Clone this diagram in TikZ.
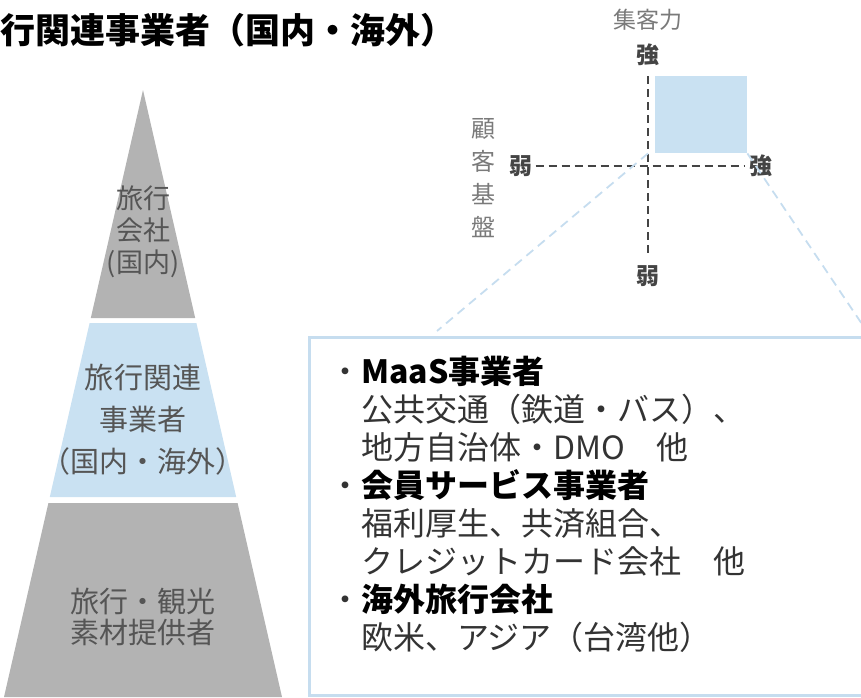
\documentclass[tikz,border=0pt]{standalone}
\usepackage{fontspec}
\setmainfont{Noto Sans CJK JP}
\usepackage{xcolor}
\usepackage{tikz}
\usetikzlibrary{shapes,calc,positioning}

\definecolor{pyrgray}{HTML}{B3B3B3}
\definecolor{pyrblue}{HTML}{C9E1F2}
\definecolor{boxblue}{HTML}{C6DDEF}
\definecolor{axgray}{HTML}{444444}
\definecolor{lblgray}{HTML}{7A7A7A}
\definecolor{txtgray}{HTML}{555555}
\definecolor{boxtext}{HTML}{333333}

\begin{document}
\begin{tikzpicture}[x=1pt,y=-1pt,
  pyrtext/.style={text=txtgray, align=center, inner sep=0pt},
  axislbl/.style={font=\fontsize{23}{26}\selectfont\bfseries, text=axgray, inner sep=1pt},
  axisline/.style={axgray, line width=2.2pt, dash pattern=on 8pt off 5pt},
  zoomline/.style={boxblue, line width=1.8pt, dash pattern=on 9pt off 6pt}]

\useasboundingbox (0,0) rectangle (861,697);
\clip (0,0) rectangle (861,697);

% title
\node[anchor=west, inner sep=0pt, font=\fontsize{35}{40}\selectfont\bfseries] (title) at (0,30) {行関連事業者（国内・海外）};

% pyramid
\fill[pyrgray] (143,90) -- (195.2,318) -- (90.8,318) -- cycle;
\fill[pyrblue] (89.6,323) -- (196.4,323) -- (236.2,497) -- (49.8,497) -- cycle;
\fill[pyrgray] (48.4,503) -- (237.6,503) -- (282,697) -- (4,697) -- cycle;

\node[pyrtext, font=\fontsize{27}{32}\selectfont] (ptop) at (143,232) {旅行\\会社\\(国内)};
\node[pyrtext, font=\fontsize{29}{42}\selectfont] (pmid) at (143,420) {旅行関連\\事業者\\（国内・海外）};
\node[pyrtext, font=\fontsize{29}{31}\selectfont] (pbot) at (143,617) {旅行・観光\\素材提供者};

% chart
\node[fill=pyrblue, minimum width=92pt, minimum height=77pt, inner sep=0pt, anchor=north west] (sq) at (655,76) {};

\node[axislbl] (stop) at (648,55) {強};
\node[axislbl] (sbot) at (648,276) {弱};
\node[axislbl] (sleft) at (521,166) {弱};
\node[axislbl] (sright) at (761,166) {強};
\draw[axisline, shorten <=9pt, shorten >=8pt] (stop) -- (sbot);
\draw[axisline, shorten <=2pt, shorten >=4pt] (sleft) -- (sright);

\node[font=\fontsize{23}{28}\selectfont, text=lblgray] (attract) at (648,20) {集客力};
\node[align=center, font=\fontsize{24}{33}\selectfont, text=lblgray] (cbase) at (483,178) {顧\\客\\基\\盤};

% list box
\node[draw=boxblue, line width=3pt, minimum width=600pt, minimum height=358pt, anchor=north west, inner sep=0pt] (box) at (308,336) {};

\coordinate (lend) at (437,331);
\coordinate (rend) at (868,333);
\draw[zoomline] ([xshift=-7pt]sq.south west) -- (lend);
\draw[zoomline] (sq.south east) -- (rend);

\node[anchor=north west, align=left, inner sep=0pt, font=\fontsize{32}{38}\selectfont, text=boxtext] (list) at (329,356) {%
・{\bfseries\color{black}MaaS事業者}\\
　公共交通（鉄道・バス）、\\
　地方自治体・DMO　他\\
・{\bfseries\color{black}会員サービス事業者}\\
　福利厚生、共済組合、\\
　クレジットカード会社　他\\
・{\bfseries\color{black}海外旅行会社}\\
　欧米、アジア（台湾他）};

\end{tikzpicture}
\end{document}
